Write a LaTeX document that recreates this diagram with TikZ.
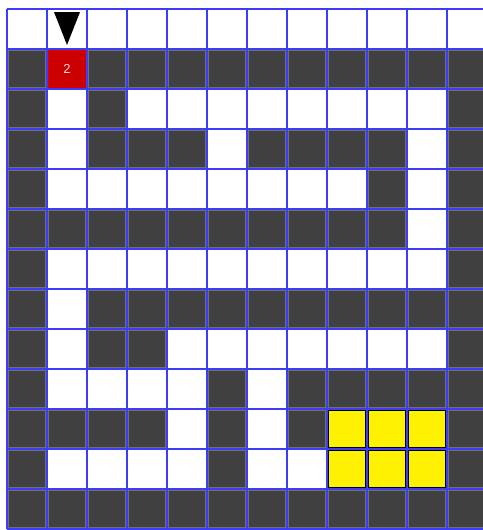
\documentclass[tikz,border=0pt]{standalone}
\usepackage{fontspec}
\setsansfont{Liberation Sans}
\def\redtype{r}
\begin{document}
\begin{tikzpicture}[x=1pt,y=-1pt,
  gridline/.style={draw={rgb,255:red,60;green,60;blue,255},line width=1.3pt},
  cellw/.style={minimum size=38pt,inner sep=0pt,draw=none,fill=white},
  celld/.style={minimum size=37pt,inner sep=0pt,fill={rgb,255:red,64;green,64;blue,64},draw={rgb,255:red,112;green,112;blue,112},line width=0.8pt},
  cellr/.style={minimum size=38pt,inner sep=0pt,fill={rgb,255:red,204;green,0;blue,0},draw={rgb,255:red,220;green,0;blue,0},line width=0.5pt,text={rgb,255:red,255;green,215;blue,215},font=\sffamily\fontsize{13}{13}\selectfont},
  celly/.style={minimum size=37pt,inner sep=0pt,fill=yellow,draw=black,line width=1.6pt},
]
\useasboundingbox (0,0) rectangle (482,530);
\fill[white] (0,0) rectangle (482,530);
\foreach \r/\row in {
 0/{w,w,w,w,w,w,w,w,w,w,w,w},
 1/{d,r,d,d,d,d,d,d,d,d,d,d},
 2/{d,w,d,w,w,w,w,w,w,w,w,d},
 3/{d,w,d,d,d,w,d,d,d,d,w,d},
 4/{d,w,w,w,w,w,w,w,w,d,w,d},
 5/{d,d,d,d,d,d,d,d,d,d,w,d},
 6/{d,w,w,w,w,w,w,w,w,w,w,d},
 7/{d,w,d,d,d,d,d,d,d,d,d,d},
 8/{d,w,d,d,w,w,w,w,w,w,w,d},
 9/{d,w,w,w,w,d,w,d,d,d,d,d},
 10/{d,d,d,d,w,d,w,d,y,y,y,d},
 11/{d,w,w,w,w,d,w,w,y,y,y,d},
 12/{d,d,d,d,d,d,d,d,d,d,d,d}}{
  \foreach \t [count=\c from 0] in \row {
    \ifx\t\redtype
      \node[cellr] (cell-\r-\c) at ({27+40*\c},{29+40*\r}) {2};
    \else
      \node[cell\t] (cell-\r-\c) at ({27+40*\c},{29+40*\r}) {};
    \fi
  }
}
\foreach \k in {0,...,12} \draw[gridline] ({7+40*\k},9) -- ({7+40*\k},529);
\foreach \k in {0,...,13} \draw[gridline] (7,{9+40*\k}) -- (487,{9+40*\k});
\fill[black] (54,12) -- (80,12) -- (67,45) -- cycle;
\end{tikzpicture}
\end{document}
